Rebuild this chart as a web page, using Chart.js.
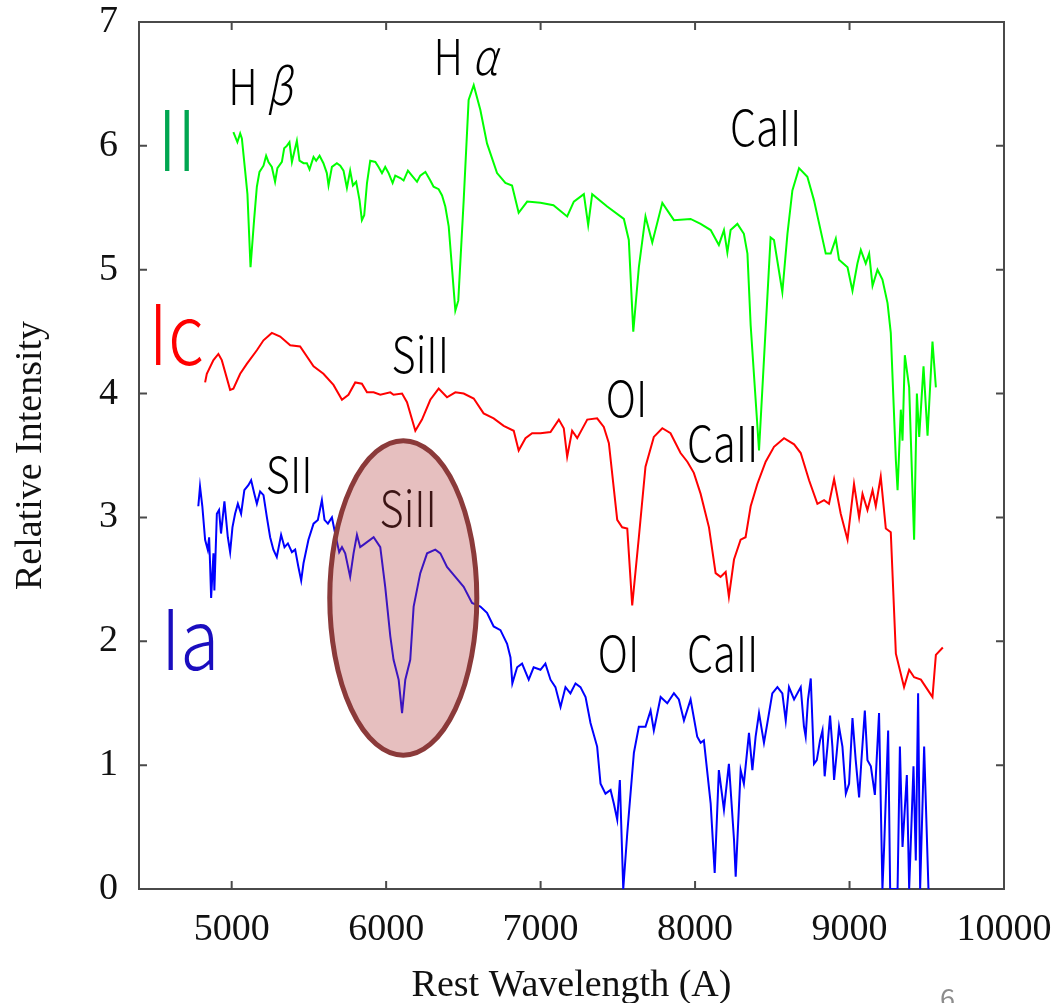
<!DOCTYPE html>
<html>
<head>
<meta charset="utf-8">
<script src="https://cdn.jsdelivr.net/npm/chart.js@4.4.1/dist/chart.umd.min.js"></script>
<style>
  html, body { margin: 0; padding: 0; background: #fff; }
  #wrap { width: 1062px; height: 1003px; position: relative; }
</style>
</head>
<body>
<div id="wrap"><canvas id="spectra"></canvas></div>
<script>
// type II (green)
const iiWave = [5011,5037,5055,5066,5087,5102,5122,5145,5163,5180,5206,5223,5238,5260,5281,5296,5325,5340,5357,5374,5390,5405,5422,5439,5465,5487,5504,5530,5547,5569,5594,5616,5627,5649,5681,5703,5724,5746,5767,5785,5806,5828,5843,5858,5876,5897,5930,5951,5973,5994,6016,6042,6059,6092,6113,6141,6167,6200,6221,6254,6286,6307,6340,6362,6383,6405,
  6448,6467,6502,6534,6567,6610,6653,6718,6772,6815,6858,6913,6999,7083,7172,7215,7280,7308,7334,7431,7539,7571,7600,7636,7679,7723,7788,7863,7971,8036,8101,8154,8187,8209,8230,8274,8316,8339,8360,8414,8489,8511,8565,8598,8630,8673,8727,8770,8846,8878,8911,8932,8987,9019,9051,9073,9105,9127,9149,9181,9213,9246,9267,9300,9311,9332,9343,9358,9386,9418,9436,9451,9479,9505,9537,9559];
const iiFlux = [6.11,6.03,6.10,6.06,5.80,5.61,5.02,5.40,5.67,5.79,5.84,5.92,5.87,5.83,5.71,5.82,5.87,5.98,6.00,6.03,5.87,5.95,6.04,5.88,5.86,5.86,5.81,5.91,5.88,5.92,5.86,5.78,5.68,5.83,5.86,5.84,5.80,5.66,5.80,5.68,5.71,5.56,5.40,5.44,5.70,5.88,5.87,5.83,5.78,5.83,5.78,5.70,5.76,5.74,5.72,5.80,5.76,5.71,5.76,5.79,5.72,5.67,5.65,5.60,5.51,5.35,
  4.67,4.75,5.56,6.37,6.49,6.29,6.02,5.78,5.70,5.68,5.46,5.55,5.54,5.52,5.43,5.55,5.61,5.36,5.61,5.51,5.41,5.24,4.50,5.02,5.43,5.22,5.54,5.40,5.41,5.37,5.32,5.20,5.32,5.14,5.32,5.37,5.29,5.13,4.55,3.54,5.26,5.24,4.82,5.29,5.64,5.82,5.75,5.56,5.13,5.13,5.25,5.08,5.02,4.83,5.05,5.16,5.05,5.13,4.87,5.00,4.92,4.73,4.49,3.46,3.22,3.87,3.62,4.31,4.05,2.82,4.00,3.65,4.22,3.66,4.42,4.05];

// type Ic (red)
const icWave = [4828,4839,4882,4914,4936,4990,5011,5055,5098,5163,5206,5260,5314,5379,5443,5530,5594,5659,5714,5756,5800,5843,5876,5919,5962,6027,6048,6103,6135,6189,6232,6286,6340,6394,6448,6502,6567,6631,6696,6761,6826,6858,6902,6945,6999,7064,7118,7150,7172,7204,7237,7302,7366,7409,7442,7496,7528,7561,7593,7636,7679,7733,7788,7841,7906,7950,7992,8036,8090,8133,8165,8198,8219,8252,8295,8327,8360,8403,8457,8511,8576,8641,8684,8738,8792,8835,8867,8900,8943,8987,9029,9062,9084,9116,9149,9170,9202,9235,9267,9300,9353,9386,9418,9462,9505,9537,9559,9604];
const icFlux = [4.09,4.16,4.27,4.32,4.27,4.03,4.04,4.16,4.24,4.35,4.43,4.49,4.46,4.39,4.38,4.22,4.16,4.07,3.95,3.99,4.09,4.08,4.01,4.01,3.99,4.01,3.99,4.00,3.93,3.70,3.79,3.95,4.04,3.97,4.01,4.00,3.96,3.84,3.80,3.74,3.70,3.54,3.64,3.68,3.68,3.69,3.79,3.72,3.49,3.70,3.64,3.79,3.80,3.73,3.60,2.98,2.92,2.91,2.29,2.84,3.41,3.65,3.72,3.68,3.52,3.45,3.36,3.19,2.92,2.55,2.52,2.56,2.36,2.66,2.82,2.84,3.09,3.27,3.45,3.57,3.64,3.59,3.52,3.30,3.11,3.14,3.11,3.31,3.03,2.82,3.27,3.00,3.19,3.06,3.22,3.09,3.33,2.91,2.88,1.90,1.63,1.77,1.71,1.69,1.61,1.55,1.89,1.95];

// type Ia (blue)
const iaWave = [4784,4795,4810,4828,4845,4854,4860,4867,4882,4888,4904,4918,4931,4953,4975,4990,5005,5022,5040,5061,5082,5108,5126,5147,5163,5184,5206,5228,5249,5270,5292,5320,5342,5364,5390,5411,5432,5450,5465,5497,5530,5558,5584,5601,5623,5649,5670,5696,5714,5735,5767,5789,5811,5832,5854,
  5919,5962,5994,6027,6048,6081,6103,6124,6156,6178,6221,6265,6318,6351,6394,6448,6502,6556,6610,6653,6696,6740,6783,6805,6817,6848,6880,6923,6955,6999,7031,7064,7096,7129,7161,7193,7226,7258,7291,7323,7366,7388,7420,7453,7474,7496,7513,7535,7561,7604,7636,7679,7712,7733,7777,7820,7863,7895,7928,7971,8014,8036,8057,8101,8127,8154,8187,8219,8252,8263,8295,8316,8349,8371,8392,8414,8446,8468,8500,8533,8565,8587,8608,8641,
  8684,8705,8716,8731,8749,8770,8788,8809,8825,8839,8857,8874,8889,8900,8917,8932,8954,8976,8997,9019,9040,9062,9077,9099,9116,9138,9164,9191,9213,9224,9250,9263,9311,9326,9343,9371,9386,9414,9429,9444,9457,9483,9511];
const iaFlux = [3.09,3.25,3.09,2.82,2.74,2.84,2.63,2.35,2.71,2.41,3.03,3.06,2.87,3.13,2.84,2.72,2.92,3.03,3.11,3.03,3.22,3.26,3.30,3.19,3.11,3.21,3.18,3.00,2.84,2.74,2.68,2.86,2.76,2.79,2.72,2.74,2.60,2.49,2.63,2.82,2.95,2.98,3.14,2.98,2.95,3.00,2.87,2.72,2.76,2.71,2.52,2.71,2.86,2.76,2.78,
  2.84,2.76,2.44,2.04,1.85,1.69,1.42,1.69,1.85,2.28,2.55,2.71,2.74,2.71,2.60,2.52,2.44,2.31,2.28,2.23,2.12,2.09,1.98,1.87,1.66,1.79,1.82,1.69,1.79,1.77,1.82,1.69,1.63,1.47,1.63,1.58,1.66,1.63,1.55,1.34,1.15,0.85,0.77,0.80,0.69,0.56,0.88,0.00,0.45,1.10,1.31,1.31,1.44,1.28,1.55,1.50,1.58,1.53,1.36,1.53,1.23,1.18,1.20,0.69,0.13,0.96,0.64,1.01,0.40,0.10,0.96,0.85,1.26,0.96,1.23,1.42,1.18,1.34,1.58,1.63,1.58,1.36,1.63,1.53,
  1.63,1.31,1.23,1.53,1.70,1.01,1.04,1.20,1.28,0.91,1.15,1.40,1.15,0.88,1.10,1.31,1.15,0.77,0.85,1.38,1.04,0.74,1.04,1.44,1.04,0.99,0.76,1.42,0.00,0.34,1.28,0.00,0.00,1.15,0.34,0.92,0.00,0.99,0.23,1.58,0.00,1.15,0.00];

const xTickValues = [5000, 6000, 7000, 8000, 9000, 10000];

// line identifications: text, wavelength, intensity (baseline of text)
const lineNames = ['H β', 'H α', 'CaII', 'SiII', 'OI', 'CaII', 'SII', 'SiII', 'OI', 'CaII'];
const lineNameWave = [5184, 6513, 8457, 6221, 7556, 8178, 5372, 6143, 7504, 8178];
const lineNameLevel = [6.33, 6.57, 6.00, 4.17, 3.81, 3.45, 3.20, 2.92, 1.75, 1.75];

// supernova types
const typeNames = ['II', 'Ic', 'Ia'];
const typeWave = [4646, 4640, 4731];
const typeLevel = [5.80, 4.23, 1.77];
const typeColors = ['#00a651', '#ff0000', '#1a0dbf'];

// highlighted SiII region
const ringWave = 6111, ringLevel = 2.35, ringHalfWidth = 476, ringHalfHeight = 1.27;

const toPoints = (xs, ys) => xs.map((x, i) => ({ x: x, y: ys[i] }));

const sansFont = '"Noto Sans CJK JP", "Noto Sans", sans-serif';
const serifFont = '"Liberation Serif", "DejaVu Serif", serif';

const drawLabel = (ctx, text, cx, baseY, size, color, squeeze) => {
    // greek letters in italic
    const runs = text.split(/([α-ω])/).filter(s => s !== '');
    const fontOf = (s) => (/[α-ω]/.test(s) ? 'italic ' : '') + '300 ' + size + 'px ' + sansFont;
    const widths = runs.map(s => { ctx.font = fontOf(s); return ctx.measureText(s).width; });
    const total = widths.reduce((a, b) => a + b, 0) * squeeze;
    ctx.save();
    ctx.fillStyle = color;
    ctx.textBaseline = 'alphabetic';
    ctx.textAlign = 'left';
    ctx.translate(cx - total / 2, baseY);
    ctx.scale(squeeze, 1);
    let x = 0;
    runs.forEach((s, i) => {
        ctx.font = fontOf(s);
        ctx.fillText(s, x, 0);
        x += widths[i];
    });
    ctx.restore();
};

const framePlugin = {
    id: 'frame',
    beforeDatasetsDraw(chart) {
        const { ctx, chartArea: a, scales: { x, y } } = chart;
        ctx.save();
        ctx.strokeStyle = '#4a4a4a';
        ctx.lineWidth = 2;
        ctx.strokeRect(a.left, a.top, a.right - a.left, a.bottom - a.top);
        const tick = 8;
        ctx.beginPath();
        xTickValues.forEach(v => {
            const px = x.getPixelForValue(v);
            if (px >= a.right - 1) return;
            ctx.moveTo(px, a.bottom); ctx.lineTo(px, a.bottom - tick);
            ctx.moveTo(px, a.top); ctx.lineTo(px, a.top + tick);
        });
        for (let v = 1; v < 7; v++) {
            const py = y.getPixelForValue(v);
            ctx.moveTo(a.left, py); ctx.lineTo(a.left + tick, py);
            ctx.moveTo(a.right, py); ctx.lineTo(a.right - tick, py);
        }
        ctx.stroke();
        ctx.restore();
    },
    afterDatasetsDraw(chart) {
        const { ctx, scales: { x, y } } = chart;
        lineNames.forEach((t, i) => {
            drawLabel(ctx, t, x.getPixelForValue(lineNameWave[i]), y.getPixelForValue(lineNameLevel[i]), 50, '#000', 0.83);
        });
        typeNames.forEach((t, i) => {
            drawLabel(ctx, t, x.getPixelForValue(typeWave[i]), y.getPixelForValue(typeLevel[i]), 84, typeColors[i], 0.85);
        });

        // translucent ring over the SiII trough
        const cx = x.getPixelForValue(ringWave);
        const cy = y.getPixelForValue(ringLevel);
        const rx = x.getPixelForValue(ringWave + ringHalfWidth) - cx;
        const ry = cy - y.getPixelForValue(ringLevel + ringHalfHeight);
        ctx.save();
        ctx.beginPath();
        ctx.ellipse(cx, cy, rx, ry, 0, 0, Math.PI * 2);
        ctx.fillStyle = 'rgba(180, 60, 60, 0.33)';
        ctx.fill();
        ctx.lineWidth = 5;
        ctx.strokeStyle = '#8b3a3a';
        ctx.stroke();
        ctx.restore();
    },
    afterDraw(chart) {
        // slide page number
        const ctx = chart.ctx;
        ctx.save();
        ctx.fillStyle = '#8c8c8c';
        ctx.font = '27px ' + sansFont;
        ctx.textBaseline = 'alphabetic';
        ctx.fillText('6', 940, 1008);
        ctx.restore();
    }
};

const serie = (label, xs, ys, color) => ({
    label: label,
    data: toPoints(xs, ys),
    borderColor: color,
    borderWidth: 2,
    pointRadius: 0,
    tension: 0,
    fill: false
});

new Chart(document.getElementById('spectra'), {
    type: 'line',
    data: {
        datasets: [
            serie('II', iiWave, iiFlux, '#00ff00'),
            serie('Ic', icWave, icFlux, '#ff0000'),
            serie('Ia', iaWave, iaFlux, '#0000ff')
        ]
    },
    options: {
        responsive: true,
        maintainAspectRatio: false,
        animation: false,
        events: [],
        layout: { padding: { left: 0, top: 22, right: 58, bottom: 0 } },
        plugins: { legend: { display: false }, tooltip: { enabled: false } },
        scales: {
            x: {
                type: 'linear',
                min: 4400,
                max: 10000,
                afterBuildTicks: (s) => { s.ticks = xTickValues.map(v => ({ value: v })); },
                afterFit: (s) => { s.height = 114; s.paddingLeft = 0; s.paddingRight = 0; },
                grid: { display: false, drawTicks: false },
                border: { display: false },
                ticks: { autoSkip: false, maxRotation: 0, padding: 18, color: '#111', font: { family: serifFont, size: 38 }, callback: (v) => String(v) },
                title: {
                    display: true,
                    text: 'Rest Wavelength (A)',
                    color: '#111',
                    font: { family: serifFont, size: 38, lineHeight: 1 },
                    padding: { top: 0, bottom: -2 }
                }
            },
            y: {
                min: 0,
                max: 7,
                afterFit: (s) => { s.width = 139; s.paddingTop = 0; s.paddingBottom = 0; },
                grid: { display: false, drawTicks: false },
                border: { display: false },
                ticks: { stepSize: 1, padding: 21, color: '#111', font: { family: serifFont, size: 38 } },
                title: {
                    display: true,
                    text: 'Relative Intensity',
                    color: '#111',
                    font: { family: serifFont, size: 38, lineHeight: 1 },
                    padding: { top: 12, bottom: 0 }
                }
            }
        }
    },
    plugins: [framePlugin]
});
</script>
</body>
</html>
